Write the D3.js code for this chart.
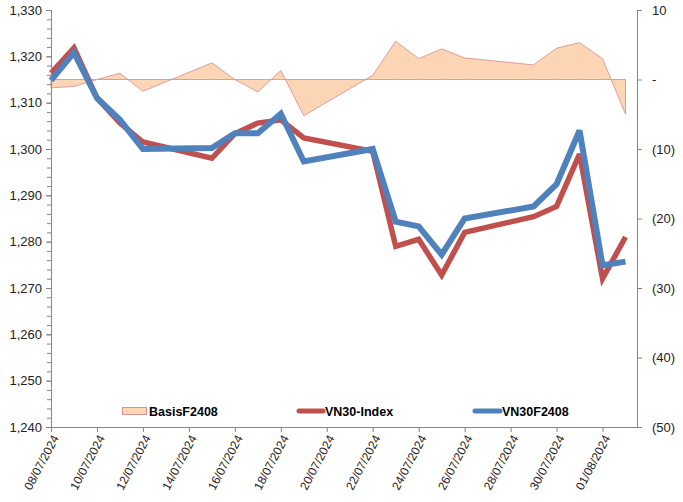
<!DOCTYPE html>
<html><head><meta charset="utf-8">
<script src="https://cdn.jsdelivr.net/npm/d3@7"></script>
<style>body{margin:0;background:#fff}text{font-family:"Liberation Sans",Arial,sans-serif}</style>
</head><body><svg id="c" width="683" height="502"></svg>
<script>
const dates = ["08/07/2024","09/07/2024","10/07/2024","11/07/2024","12/07/2024","15/07/2024","16/07/2024","17/07/2024","18/07/2024","19/07/2024","22/07/2024","23/07/2024","24/07/2024","25/07/2024","26/07/2024","29/07/2024","30/07/2024","31/07/2024","01/08/2024","02/08/2024"];
const vn30Index = [1316.4,1321.8,1311.0,1305.6,1301.5,1298.0,1303.3,1305.6,1306.3,1302.4,1299.5,1279.0,1280.5,1272.8,1282.0,1285.4,1287.6,1298.9,1272.0,1281.0];
const vn30F2408 = [1314.8,1320.8,1311.0,1306.3,1300.0,1300.2,1303.4,1303.4,1307.6,1297.3,1300.0,1284.3,1283.3,1277.2,1285.0,1287.6,1292.4,1304.0,1274.9,1275.7];
const basisF2408 = [-1.2,-1.0,0.0,0.9,-1.7,2.4,0.0,-1.8,1.3,-5.2,0.6,5.5,3.0,4.4,3.1,2.1,4.5,5.3,3.0,-5.0];
const leftTicks = [1240,1250,1260,1270,1280,1290,1300,1310,1320,1330];
const rightTicks = [-50,-40,-30,-20,-10,0,10];
const xTickLabels = ["08/07/2024","10/07/2024","12/07/2024","14/07/2024","16/07/2024","18/07/2024","20/07/2024","22/07/2024","24/07/2024","26/07/2024","28/07/2024","30/07/2024","01/08/2024"];
const seriesNames = ["BasisF2408","VN30-Index","VN30F2408"];

const parse = d3.timeParse("%d/%m/%Y");
const L = 51, R = 637, T = 10, B = 427;
const svg = d3.select("#c");
const x = d3.scaleTime().domain([parse("08/07/2024"), d3.timeHour.offset(parse("02/08/2024"), 12)]).range([L, R]);
const yL = d3.scaleLinear().domain([1240,1330]).range([B, T]);
const yR = d3.scaleLinear().domain([-50,10]).range([B, T]);
const axisCol = "#868686";

// area
const area = d3.area().x((d,i)=>x(parse(dates[i]))).y0(yR(0)).y1(d=>yR(d));
svg.append("path").datum(basisF2408).attr("d", area)
  .attr("fill","#fcd5b5").attr("stroke","#d99594").attr("stroke-width",0.9);

const line = y => d3.line().x((d,i)=>x(parse(dates[i]))).y(d=>y(d));
svg.append("path").datum(vn30Index).attr("d", line(yL)).attr("fill","none")
  .attr("stroke","#c0504d").attr("stroke-width",5.5).attr("stroke-linejoin","miter").attr("stroke-miterlimit",3).attr("stroke-linecap","butt");
svg.append("path").datum(vn30F2408).attr("d", line(yL)).attr("fill","none")
  .attr("stroke","#4f81bd").attr("stroke-width",6).attr("stroke-linejoin","miter").attr("stroke-miterlimit",3).attr("stroke-linecap","butt");

// left axis
const gl = svg.append("g").attr("transform",`translate(${L},0)`);
gl.call(d3.axisLeft(yL).tickValues(d3.range(1240,1331,2)).tickSize(4).tickFormat(""));
gl.call(g=>g.select(".domain").remove());
gl.selectAll(".tick line").attr("stroke",axisCol);
svg.append("line").attr("x1",L+0.5).attr("x2",L+0.5).attr("y1",T).attr("y2",B).attr("stroke",axisCol);
const glab = svg.append("g").attr("transform",`translate(${L},0)`)
  .call(d3.axisLeft(yL).tickValues(leftTicks).tickSize(5).tickPadding(4).tickFormat(d3.format(",")));
glab.select(".domain").remove();
glab.selectAll(".tick line").attr("stroke",axisCol);
glab.selectAll("text").attr("font-size",13).attr("fill","#222").attr("font-family","'Liberation Sans',Arial,sans-serif");

// right axis
const fmtR = v => v===0 ? "-" : v<0 ? `(${Math.abs(v)})` : String(v);
const gr = svg.append("g").attr("transform",`translate(${R},0)`)
  .call(d3.axisRight(yR).tickValues(rightTicks).tickSize(5).tickPadding(10).tickFormat(fmtR));
gr.select(".domain").attr("stroke",axisCol).attr("d",`M0.5,${T}V${B}`);
gr.selectAll(".tick line").attr("stroke",axisCol);
gr.selectAll("text").attr("font-size",13).attr("fill","#222").attr("font-family","'Liberation Sans',Arial,sans-serif");

// x axis
const gx = svg.append("g").attr("transform",`translate(0,${B})`)
  .call(d3.axisBottom(x).tickValues(xTickLabels.map(parse)).tickSize(5).tickFormat(d3.timeFormat("%d/%m/%Y")));
gx.select(".domain").attr("stroke",axisCol).attr("d",`M${L},0.5H${R}`);
gx.selectAll(".tick line").attr("stroke",axisCol);
gx.selectAll("text").attr("font-size",12).attr("fill","#222").attr("font-family","'Liberation Sans',Arial,sans-serif")
  .attr("text-anchor","end").attr("dy","0.35em")
  .attr("transform","translate(4,9) rotate(-62)").attr("x",0).attr("y",0);

// legend
const lg = svg.append("g").attr("font-size",12.5).attr("font-weight","bold");
lg.append("rect").attr("x",122.5).attr("y",407.5).attr("width",24).attr("height",7).attr("fill","#fcd5b5").attr("stroke","#d99594");
lg.append("text").attr("x",149).attr("y",415.5).text(seriesNames[0]);
lg.append("line").attr("x1",299).attr("x2",323).attr("y1",411).attr("y2",411).attr("stroke","#c0504d").attr("stroke-width",5).attr("stroke-linecap","round");
lg.append("text").attr("x",325).attr("y",415.5).text(seriesNames[1]);
lg.append("line").attr("x1",475).attr("x2",500).attr("y1",411).attr("y2",411).attr("stroke","#4f81bd").attr("stroke-width",5).attr("stroke-linecap","round");
lg.append("text").attr("x",502).attr("y",415.5).text(seriesNames[2]);
</script></body></html>
